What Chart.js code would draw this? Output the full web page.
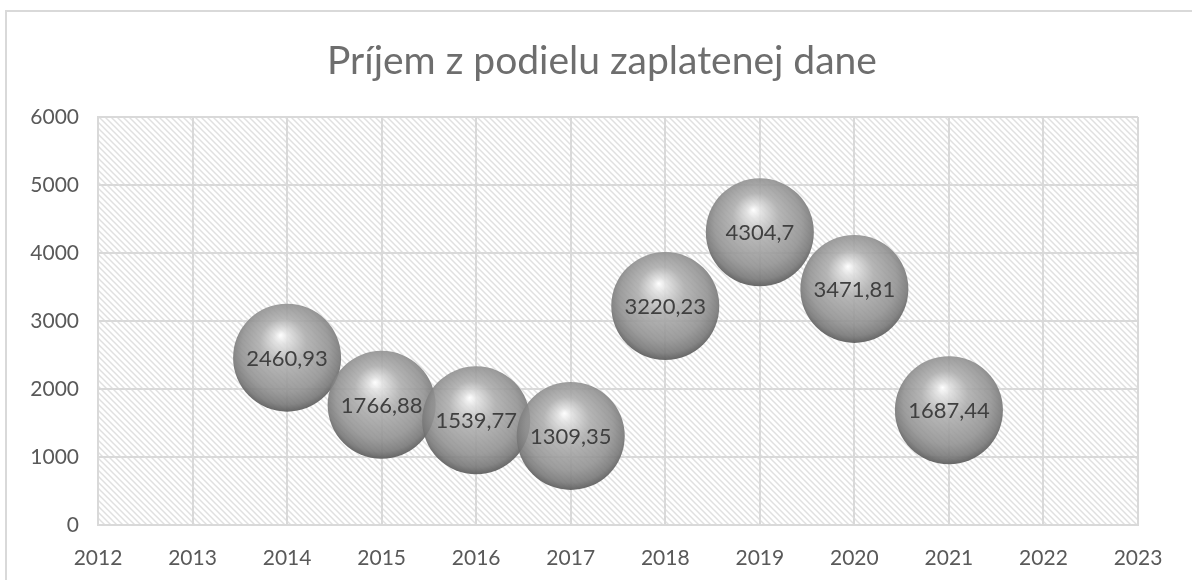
<!DOCTYPE html>
<html>
<head>
<meta charset="utf-8">
<script src="https://cdn.jsdelivr.net/npm/chart.js@4.4.1/dist/chart.umd.min.js"></script>
<style>
  html, body { margin: 0; padding: 0; background: #ffffff; }
  #wrap { position: relative; width: 1192px; height: 580px; overflow: hidden; }
  #frame { position: absolute; left: 5px; top: 10px; width: 1200px; height: 600px; border: 2px solid #d9d9d9; box-sizing: border-box; }
  canvas { position: absolute; left: 0; top: 0; }
</style>
</head>
<body>
<div id="wrap">
  <div id="frame"></div>
  <canvas id="c" width="1192" height="580"></canvas>
</div>
<script>
const chartTitle = 'Príjem z podielu zaplatenej dane';
const years = [2014, 2015, 2016, 2017, 2018, 2019, 2020, 2021];
const values = [2460.93, 1766.88, 1539.77, 1309.35, 3220.23, 4304.7, 3471.81, 1687.44];
const xTickRange = [2012, 2023];
const yTickRange = [0, 6000];
const yStep = 1000;

const FONT = 'Lato, "Open Sans", sans-serif';
const BUBBLE_R = 54;

function makeHatch() {
  const s = 6;
  const p = document.createElement('canvas');
  p.width = s; p.height = s;
  const g = p.getContext('2d');
  g.fillStyle = '#ffffff';
  g.fillRect(0, 0, s, s);
  g.strokeStyle = '#e0e0e0';
  g.lineWidth = 1.5;
  g.beginPath();
  g.moveTo(-1, -1); g.lineTo(s + 1, s + 1);
  g.moveTo(-1, s - 1); g.lineTo(1, s + 1);
  g.moveTo(s - 1, -1); g.lineTo(s + 1, 1);
  g.stroke();
  return p;
}

const hatchPlugin = {
  id: 'hatch',
  beforeDraw(chart) {
    const { ctx, chartArea: a } = chart;
    ctx.save();
    ctx.fillStyle = ctx.createPattern(makeHatch(), 'repeat');
    ctx.fillRect(a.left, a.top, a.right - a.left, a.bottom - a.top);
    ctx.restore();
  }
};

const titlePlugin = {
  id: 'offsetTitle',
  afterDraw(chart) {
    const { ctx } = chart;
    ctx.save();
    ctx.font = '39px ' + FONT;
    ctx.fillStyle = '#6e6e6e';
    ctx.textAlign = 'center';
    ctx.textBaseline = 'alphabetic';
    ctx.fillText(chartTitle, 602, 74);
    ctx.restore();
  }
};

const labelPlugin = {
  id: 'bubbleLabels',
  afterDatasetsDraw(chart) {
    const { ctx } = chart;
    const meta = chart.getDatasetMeta(0);
    ctx.save();
    ctx.font = '22px ' + FONT;
    ctx.fillStyle = '#404040';
    ctx.textAlign = 'center';
    ctx.textBaseline = 'middle';
    meta.data.forEach((el, i) => {
      ctx.fillText(String(values[i]).replace('.', ','), el.x, el.y + 1);
    });
    ctx.restore();
  }
};

function sphere(context) {
  const chart = context.chart;
  const xs = chart.scales && chart.scales.x, ys = chart.scales && chart.scales.y;
  if (!xs || !ys || !context.raw) return '#9a9a9a';
  const raw = context.raw;
  const cx = xs.getPixelForValue(raw.x);
  const cy = ys.getPixelForValue(raw.y);
  if (!isFinite(cx) || !isFinite(cy)) return '#9a9a9a';
  const r = BUBBLE_R;
  const g = chart.ctx.createRadialGradient(cx - 0.12 * r, cy - 0.42 * r, 0, cx, cy - 0.1 * r, r * 1.08);
  g.addColorStop(0, 'rgba(255,255,255,0.95)');
  g.addColorStop(0.12, 'rgba(224,224,224,0.9)');
  g.addColorStop(0.4, 'rgba(172,172,172,0.88)');
  g.addColorStop(0.75, 'rgba(144,144,144,0.88)');
  g.addColorStop(0.92, 'rgba(120,120,120,0.9)');
  g.addColorStop(1, 'rgba(95,95,95,0.92)');
  return g;
}

new Chart(document.getElementById('c'), {
  type: 'bubble',
  data: {
    datasets: [{
      label: chartTitle,
      data: years.map((y, i) => ({ x: y, y: values[i] })),
      radius: BUBBLE_R,
      hoverRadius: 0,
      backgroundColor: sphere,
      hoverBackgroundColor: sphere,
      borderWidth: 0
    }]
  },
  options: {
    responsive: false,
    animation: false,
    events: [],
    layout: { padding: { left: 0, right: 49, top: 117, bottom: 0 } },
    plugins: {
      legend: { display: false },
      tooltip: { enabled: false },
      title: { display: false }
    },
    scales: {
      x: {
        type: 'linear',
        min: xTickRange[0],
        max: xTickRange[1],
        afterFit(s) { s.height = 55; },
        ticks: {
          stepSize: 1,
          color: '#595959',
          font: { family: FONT, size: 21 },
          padding: 21,
          callback: v => String(v)
        },
        grid: { color: '#d9d9d9', lineWidth: 2, drawTicks: false },
        border: { color: '#d9d9d9', width: 2 }
      },
      y: {
        min: yTickRange[0],
        max: yTickRange[1],
        afterFit(s) { s.width = 98; },
        ticks: {
          stepSize: yStep,
          color: '#595959',
          font: { family: FONT, size: 21 },
          padding: 19,
          callback: v => String(v)
        },
        grid: { color: '#d9d9d9', lineWidth: 2, drawTicks: false },
        border: { color: '#d9d9d9', width: 2 }
      }
    }
  },
  plugins: [hatchPlugin, labelPlugin, titlePlugin]
});
</script>
</body>
</html>
